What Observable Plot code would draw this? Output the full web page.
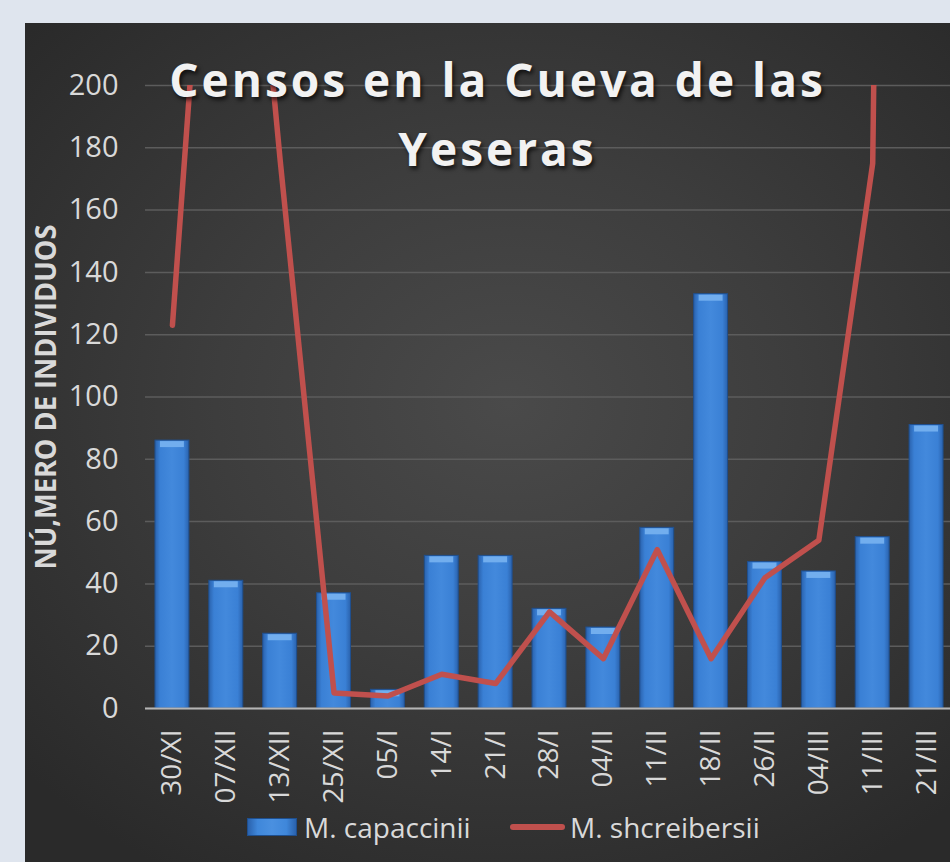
<!DOCTYPE html>
<html>
<head>
<meta charset="utf-8">
<script src="https://cdn.jsdelivr.net/npm/d3@7"></script>
<script src="https://cdn.jsdelivr.net/npm/@observablehq/plot@0.6"></script>
<style>
  html, body { margin: 0; padding: 0; width: 950px; height: 862px; overflow: hidden; background: #dfe5ee; }
  #box { position: absolute; left: 25px; top: 23px; width: 930px; height: 845px;
    background: radial-gradient(ellipse 70% 65% at 52% 45%, #4a4a4a 0%, #3d3d3d 45%, #2a2a2a 100%);
    font-family: "Open Sans", sans-serif; }
  #title { position: absolute; left: 0; width: 945px; top: 22px; text-align: center;
    color: #f2f2f2; font-weight: bold; font-size: 46px; letter-spacing: 3px; line-height: 69px;
    text-shadow: 2px 3px 4px rgba(0,0,0,0.7); }
  #legend { position: absolute; top: 784px; left: 0; width: 930px; height: 40px; color: #d9d9d9; font-size: 28px; }
  .lg { position: absolute; top: 0; line-height: 40px; white-space: nowrap; }
  .sw-bar { position: absolute; top: 11px; width: 50px; height: 18px;
    background: linear-gradient(to right, #2a62ad 0%, #3f87da 20%, #4a90e0 50%, #3f87da 80%, #2a62ad 100%);
    border: 1px solid #1e4f8f; box-sizing: border-box; }
  .sw-line { position: absolute; top: 17px; width: 55px; height: 6px; border-radius: 3px; background: #c0504d; }
</style>
</head>
<body>
<div id="box">
  <div id="chart"></div>
  <div id="title">Censos en la Cueva de las<br>Yeseras</div>
  <div id="legend">
    <div class="sw-bar" style="left:222px"></div>
    <div class="lg" style="left:279px">M. capaccinii</div>
    <div class="sw-line" style="left:485px"></div>
    <div class="lg" style="left:545px">M. shcreibersii</div>
  </div>
</div>
<script>
const categories = ["30/XI","07/XII","13/XII","25/XII","05/I","14/I","21/I","28/I","04/II","11/II","18/II","26/II","04/III","11/III","21/III"];
const capaccinii = [86, 41, 24, 37, 6, 49, 49, 32, 26, 58, 133, 47, 44, 55, 91];
const schreibersii = [123, 360, 176, 5, 4, 11, 8, 31, 16, 51, 16, 42, 54, 175, 1500];
const yTicks = [0, 20, 40, 60, 80, 100, 120, 140, 160, 180, 200];
const yLabel = "NÚ,MERO DE INDIVIDUOS";

const rows = categories.map((c, i) => ({cat: c, cap: capaccinii[i], sch: schreibersii[i]}));

const defs = () => {
  const ns = "http://www.w3.org/2000/svg";
  const d = document.createElementNS(ns, "defs");
  d.innerHTML = `
    <linearGradient id="barGrad" x1="0" x2="1" y1="0" y2="0">
      <stop offset="0" stop-color="#2a62ad"/>
      <stop offset="0.15" stop-color="#3a80d5"/>
      <stop offset="0.5" stop-color="#4389dc"/>
      <stop offset="0.85" stop-color="#3a80d5"/>
      <stop offset="1" stop-color="#2a62ad"/>
    </linearGradient>`;
  return d;
};

const chart = Plot.plot({
  width: 930,
  height: 790,
  marginLeft: 120,
  marginRight: 2,
  marginTop: 62,
  marginBottom: 105,
  style: {background: "transparent", color: "#d9d9d9", fontFamily: "Open Sans, sans-serif", fontSize: "28px", overflow: "visible"},
  x: {domain: categories, paddingInner: 0.37, paddingOuter: 0.185, round: false},
  y: {domain: [0, 200]},
  marks: [
    defs,
    Plot.gridY(yTicks, {stroke: "#5c5c5c", strokeOpacity: 1, strokeWidth: 1.5}),
    Plot.barY(rows, {x: "cat", y: "cap", fill: "url(#barGrad)", stroke: "#1f4f8e", strokeWidth: 1}),
    Plot.tickY(rows, {x: "cat", y: "cap", stroke: "#72aeee", strokeWidth: 6, dy: 3.5, inset: 5}),
    Plot.ruleY([0], {stroke: "#b5b5b5", strokeWidth: 2}),
    Plot.line(rows, {x: "cat", y: "sch", stroke: "#c0504d", strokeWidth: 5.5, strokeLinejoin: "round", strokeLinecap: "round", clip: true}),
    Plot.axisY(yTicks, {tickSize: 0, tickPadding: 27, label: null, fontSize: 29}),
    Plot.axisX({tickRotate: -90, tickSize: 0, tickPadding: 21, label: null, fontSize: 28}),
    Plot.text([yLabel], {frameAnchor: "left", textAnchor: "middle", dx: -98, rotate: -90, fontWeight: "bold", fontSize: 28, fill: "#d9d9d9"})
  ]
});
document.getElementById("chart").appendChild(chart);
d3.select(chart).selectAll("text").filter(function() { return this.textContent === yLabel; })
  .attr("textLength", 345).attr("lengthAdjust", "spacingAndGlyphs");
</script>
</body>
</html>
